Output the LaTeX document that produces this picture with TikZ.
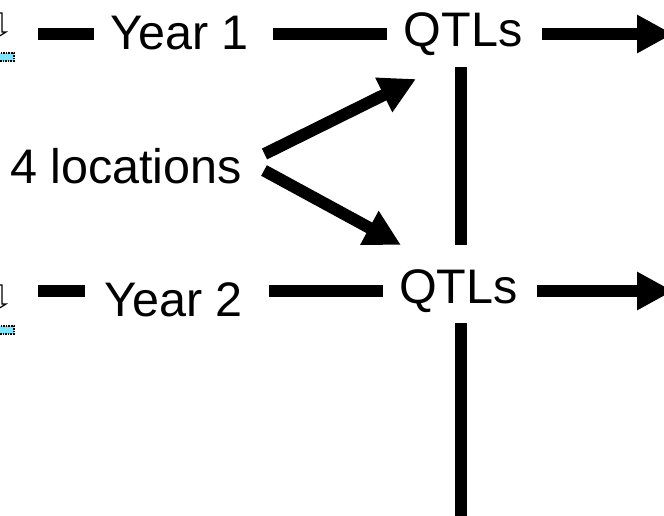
\documentclass[tikz,border=0pt]{standalone}
\usepackage{fontspec}
\setmainfont{Liberation Sans}
\usetikzlibrary{arrows.meta}
\definecolor{barcyan}{RGB}{125,230,255}
\tikzset{
  lab/.style={inner sep=0pt,anchor=base,font=\fontsize{48.5}{48.5}\selectfont},
  conn/.style={line width=12pt,black},
  arr/.style={conn,-{Triangle[length=36pt,width=36pt]}},
  iconarrow/.style={draw=black,line width=1.2pt},
  iconbar/.style={draw=black,line width=1.6pt,densely dotted}
}
\begin{document}
\begin{tikzpicture}[x=1pt,y=-1pt]
\useasboundingbox (0,0) rectangle (664,515);
\clip (0,0) rectangle (664,515);
\fill[white] (0,0) rectangle (664,515);
% icons
\draw[iconarrow] (-3,13) -- (2,13) -- (2,32) -- (6,32) -- (-2,37);
\fill[barcyan] (0,53) rectangle (14,61);
\draw[iconbar] (-2,53) -- (14,53) -- (14,61) -- (-2,61);
\draw[iconarrow] (-3,285) -- (2,285) -- (2,304) -- (6,304) -- (-2,309);
\fill[barcyan] (0,326) rectangle (14,334);
\draw[iconbar] (-2,326) -- (14,326) -- (14,334) -- (-2,334);
% labels
\node[lab] (y1) at (179.5,49.8) {Year 1};
\node[lab] (q1) at (463,46.5) {QTLs};
\node[lab] (y2) at (173.5,316.5) {Year 2};
\node[lab] (q2) at (458.5,303) {QTLs};
\node[lab] (loc) at (126,183) {4 locations};
% free ends
\coordinate (s1) at (38,34);
\coordinate (s2) at (38,291);
\coordinate (e1) at (673,34);
\coordinate (e2) at (673,291);
\coordinate (v1t) at (461,67);
\coordinate (v1b) at (461,245);
\coordinate (v2t) at (461,323);
\coordinate (v2b) at (461,516);
\coordinate (up) at (264.5,154);
\coordinate (dn) at (264,170.5);
\coordinate (upt) at (416,79);
\coordinate (dnt) at (401,245);
% connectors
\draw[conn,shorten >=16pt] (s1) -- (s1 -| y1.west);
\draw[conn,shorten >=19pt] (s2) -- (s2 -| y2.west);
\draw[conn,shorten <=24pt,shorten >=16.7pt] (s1 -| y1.east) -- (s1 -| q1.west);
\draw[conn,shorten <=26pt,shorten >=16pt] (s2 -| y2.east) -- (s2 -| q2.west);
\draw[conn,shorten <=19.7pt,-{Triangle[length=36pt,width=36pt]}] (s1 -| q1.east) -- (e1);
\draw[conn,shorten <=19pt,-{Triangle[length=36pt,width=36pt]}] (s2 -| q2.east) -- (e2);
\draw[conn] (v1t) -- (v1b);
\draw[conn] (v2t) -- (v2b);
\draw[arr] (up) -- (upt);
\draw[arr] (dn) -- (dnt);
\end{tikzpicture}
\end{document}
